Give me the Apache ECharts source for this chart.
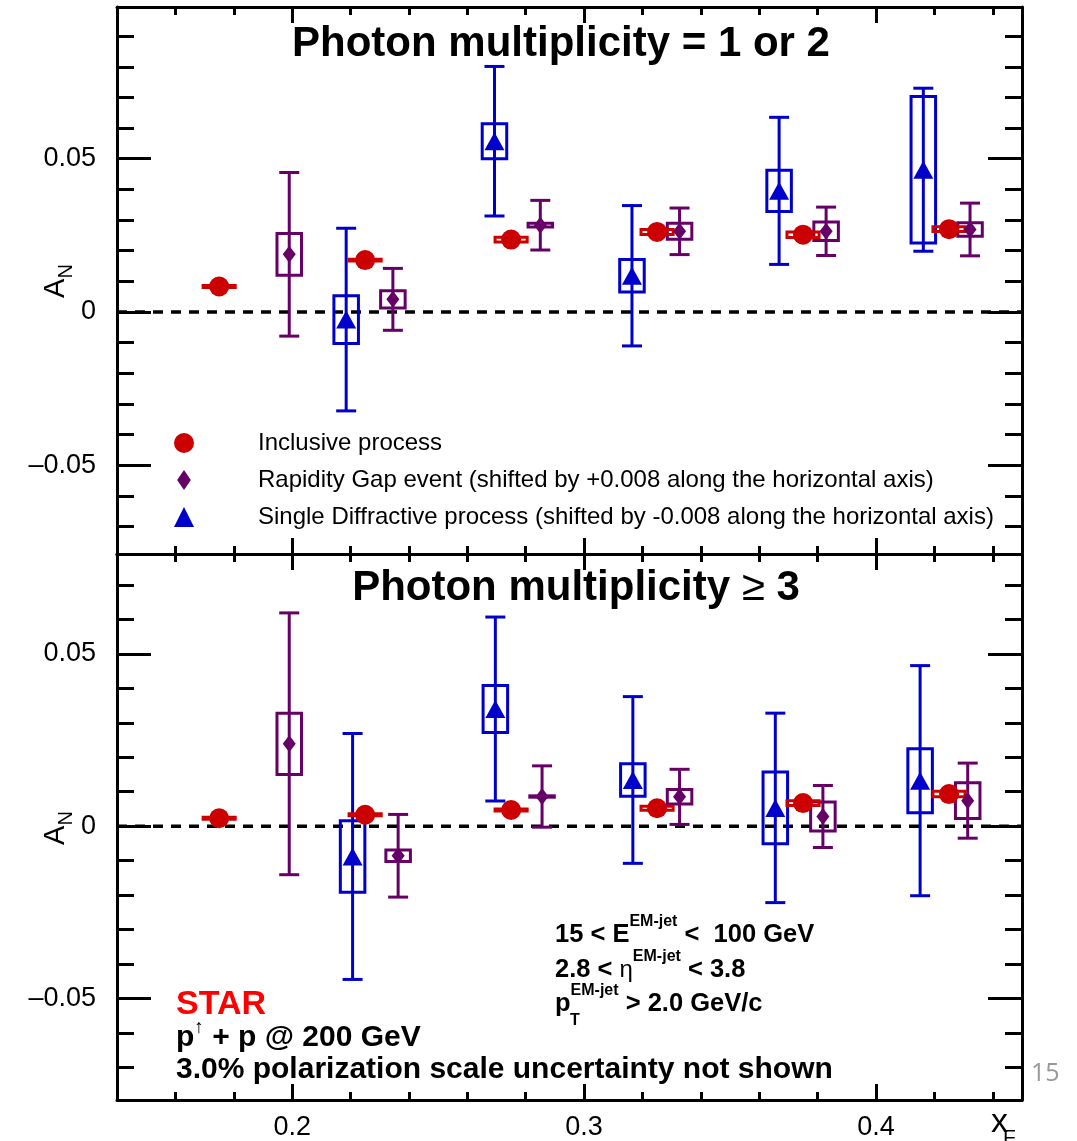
<!DOCTYPE html>
<html>
<head>
<meta charset="utf-8">
<title>STAR A_N vs x_F</title>
<script src="https://cdn.jsdelivr.net/npm/echarts@6/dist/echarts.min.js"></script>
<style>
  html, body { margin: 0; padding: 0; background: #fff; }
  #chart { width: 1077px; height: 1141px; }
</style>
</head>
<body>
<div id="chart"></div>
<script>
// ---------- x_F axis ----------
const X_MIN = 0.14, X_MAX = 0.45;
const xMajorTicks = [0.2, 0.3, 0.4];
const xMinorTicks = [0.16, 0.18, 0.22, 0.24, 0.26, 0.28, 0.32, 0.34, 0.36, 0.38, 0.42, 0.44];

// ---------- A_N axes ----------
const yTopRange = [-0.079, 0.0995];
const yBotRange = [-0.0795, 0.079];
const yMajorTicks = [-0.05, 0, 0.05];
const yTopMinorTicks = [-0.07, -0.06, -0.04, -0.03, -0.02, -0.01, 0.01, 0.02, 0.03, 0.04, 0.06, 0.07, 0.08, 0.09];
const yBotMinorTicks = [-0.07, -0.06, -0.04, -0.03, -0.02, -0.01, 0.01, 0.02, 0.03, 0.04, 0.06, 0.07];

// ---------- Photon multiplicity = 1 or 2 ----------
const incX_12    = [0.175, 0.225, 0.275, 0.325, 0.375, 0.425];
const incY_12    = [0.0083, 0.0169, 0.0236, 0.0261, 0.0252, 0.0270];
const incSys_12  = [0.0003, 0.0003, 0.0008, 0.0008, 0.0009, 0.0008];

const rgX_12     = [0.199, 0.2345, 0.285, 0.3327, 0.3829, 0.4322];
const rgY_12     = [0.0188, 0.0041, 0.0283, 0.0263, 0.0263, 0.0269];
const rgStat_12  = [0.0267, 0.0101, 0.0081, 0.0076, 0.0079, 0.0086];
const rgSys_12   = [0.0068, 0.0028, 0.0006, 0.0026, 0.0030, 0.0022];

const sdX_12     = [0.2185, 0.2693, 0.3164, 0.3668, 0.4162];
const sdY_12     = [-0.0025, 0.0557, 0.0118, 0.0395, 0.0464];
const sdStat_12  = [0.0298, 0.0244, 0.0229, 0.0240, 0.0266];
const sdSys_12   = [0.0078, 0.0057, 0.0053, 0.0067, 0.0239];

// ---------- Photon multiplicity >= 3 ----------
const incX_3     = [0.175, 0.225, 0.275, 0.325, 0.375, 0.425];
const incY_3     = [0.0023, 0.0033, 0.0047, 0.0052, 0.0067, 0.0093];
const incSys_3   = [0.0003, 0.0003, 0.0003, 0.0006, 0.0007, 0.0008];

const rgX_3      = [0.199, 0.2363, 0.2856, 0.3327, 0.3818, 0.4314];
const rgY_3      = [0.0239, -0.0086, 0.0086, 0.0085, 0.0028, 0.0074];
const rgStat_3   = [0.0380, 0.0120, 0.0089, 0.0080, 0.0090, 0.0109];
const rgSys_3    = [0.0089, 0.0017, 0.0002, 0.0021, 0.0042, 0.0052];

const sdX_3      = [0.2207, 0.2696, 0.3167, 0.3655, 0.4151];
const sdY_3      = [-0.0088, 0.0340, 0.0134, 0.0053, 0.0132];
const sdStat_3   = [0.0357, 0.0267, 0.0242, 0.0275, 0.0334];
const sdSys_3    = [0.0104, 0.0068, 0.0047, 0.0104, 0.0093];

// ---------- labels ----------
const NAME_INC = 'Inclusive process';
const NAME_RG  = 'Rapidity Gap event (shifted by +0.008 along the horizontal axis)';
const NAME_SD  = 'Single Diffractive process (shifted by -0.008 along the horizontal axis)';

// ---------- styles ----------
const RED = '#cc0000', PURPLE = '#660066', BLUE = '#0000cc';
const FONT = '"Liberation Sans", Arial, Helvetica, sans-serif';
const AXIS_W = 3;
const BOX_HW_INC = 0.0055;   // half-width of the systematic boxes (x_F units)
const BOX_HW = 0.0042;
const CAP_PX = 10;           // half-width of error-bar caps (px)

function rows(x, y, stat, sys) {
  return x.map((v, i) => [v, y[i], stat ? stat[i] : 0, sys[i]]);
}

// statistical bar + caps and hollow systematic box around each point
function errorRenderer(color, halfW) {
  return function (params, api) {
    const x = api.value(0), y = api.value(1), st = api.value(2), sy = api.value(3);
    const c = api.coord([x, y]);
    const kids = [];
    if (st > 0) {
      const t = api.coord([x, y + st]), b = api.coord([x, y - st]);
      const ls = { stroke: color, lineWidth: 3 };
      kids.push({ type: 'line', shape: { x1: c[0], y1: t[1], x2: c[0], y2: b[1] }, style: ls });
      kids.push({ type: 'line', shape: { x1: c[0] - CAP_PX, y1: t[1], x2: c[0] + CAP_PX, y2: t[1] }, style: ls });
      kids.push({ type: 'line', shape: { x1: c[0] - CAP_PX, y1: b[1], x2: c[0] + CAP_PX, y2: b[1] }, style: ls });
    }
    const p1 = api.coord([x - halfW, y + sy]), p2 = api.coord([x + halfW, y - sy]);
    kids.push({
      type: 'rect',
      shape: { x: p1[0], y: p1[1], width: p2[0] - p1[0], height: p2[1] - p1[1] },
      style: { stroke: color, fill: null, lineWidth: 3 }
    });
    return { type: 'group', children: kids };
  };
}

const tickLine = { color: '#000', width: AXIS_W };
const tickFont = { color: '#000', fontFamily: FONT, fontSize: 27 };

function xAxesFor(gi, showLabels) {
  const base = { gridIndex: gi, type: 'value', min: X_MIN, max: X_MAX, splitLine: { show: false } };
  const axes = [];
  ['bottom', 'top'].forEach(pos => {
    axes.push(Object.assign({}, base, {
      position: pos,
      axisLine: { show: true, onZero: false, lineStyle: tickLine },
      axisTick: { show: true, inside: true, length: 16, customValues: xMajorTicks, lineStyle: tickLine },
      axisLabel: pos === 'bottom' && showLabels
        ? Object.assign({ show: true, customValues: xMajorTicks, margin: 14, formatter: v => v.toFixed(1) }, tickFont)
        : { show: false }
    }));
    axes.push(Object.assign({}, base, {
      position: pos,
      axisLine: { show: false, onZero: false },
      axisTick: { show: true, inside: true, length: 8, customValues: xMinorTicks, lineStyle: tickLine },
      axisLabel: { show: false }
    }));
  });
  return axes;
}

function yFmt(v) {
  if (Math.abs(v) < 1e-9) return '0';
  return (v < 0 ? '\u2013' : '') + Math.abs(v).toFixed(2);
}

function yAxesFor(gi, range, minor) {
  const base = { gridIndex: gi, type: 'value', min: range[0], max: range[1], splitLine: { show: false } };
  const axes = [];
  ['left', 'right'].forEach(pos => {
    axes.push(Object.assign({}, base, {
      position: pos,
      axisLine: { show: true, onZero: false, lineStyle: tickLine },
      axisTick: { show: true, inside: true, length: 34, customValues: yMajorTicks, lineStyle: tickLine },
      axisLabel: pos === 'left'
        ? Object.assign({ show: true, customValues: yMajorTicks, margin: 21, formatter: yFmt }, tickFont)
        : { show: false }
    }));
    axes.push(Object.assign({}, base, {
      position: pos,
      axisLine: { show: false, onZero: false },
      axisTick: { show: true, inside: true, length: 17, customValues: minor, lineStyle: tickLine },
      axisLabel: { show: false }
    }));
  });
  return axes;
}

function panelSeries(gi, d) {
  const ax = { xAxisIndex: gi * 4, yAxisIndex: gi * 4 };
  return [
    Object.assign({
      type: 'line', name: 'zero', data: [[X_MIN, 0], [X_MAX, 0]], showSymbol: false, silent: true, z: 1,
      lineStyle: { color: '#000', width: 3.5, type: [10, 8] }
    }, ax),
    Object.assign({ type: 'custom', name: 'sd-err', data: d.sd, renderItem: errorRenderer(BLUE, BOX_HW),
      dimensions: ['x', 'y', 'stat', 'sys'], encode: { x: 0, y: 1 }, silent: true, z: 2 }, ax),
    Object.assign({ type: 'custom', name: 'rg-err', data: d.rg, renderItem: errorRenderer(PURPLE, BOX_HW),
      dimensions: ['x', 'y', 'stat', 'sys'], encode: { x: 0, y: 1 }, silent: true, z: 2 }, ax),
    Object.assign({ type: 'custom', name: 'inc-err', data: d.inc, renderItem: errorRenderer(RED, BOX_HW_INC),
      dimensions: ['x', 'y', 'stat', 'sys'], encode: { x: 0, y: 1 }, silent: true, z: 2 }, ax),
    Object.assign({ type: 'scatter', name: NAME_SD, data: d.sd.map(r => [r[0], r[1]]),
      symbol: 'triangle', symbolSize: [20, 18], itemStyle: { color: BLUE, opacity: 1 }, z: 3 }, ax),
    Object.assign({ type: 'scatter', name: NAME_RG, data: d.rg.map(r => [r[0], r[1]]),
      symbol: 'diamond', symbolSize: [13, 17], itemStyle: { color: PURPLE, opacity: 1 }, z: 3 }, ax),
    Object.assign({ type: 'scatter', name: NAME_INC, data: d.inc.map(r => [r[0], r[1]]),
      symbol: 'circle', symbolSize: 20, itemStyle: { color: RED, opacity: 1 }, z: 4 }, ax)
  ];
}

const top12 = {
  inc: rows(incX_12, incY_12, null, incSys_12),
  rg: rows(rgX_12, rgY_12, rgStat_12, rgSys_12),
  sd: rows(sdX_12, sdY_12, sdStat_12, sdSys_12)
};
const bot3 = {
  inc: rows(incX_3, incY_3, null, incSys_3),
  rg: rows(rgX_3, rgY_3, rgStat_3, rgSys_3),
  sd: rows(sdX_3, sdY_3, sdStat_3, sdSys_3)
};

function txt(x, y, text, font, extra) {
  return Object.assign({
    type: 'text', x: x, y: y, silent: true,
    style: Object.assign({ text: text, font: font, fill: '#000', align: 'left', verticalAlign: 'middle' },
      extra && extra.style || {})
  }, extra && extra.el || {});
}

const B = 'bold ';
const cutsRich = {
  b: { fontFamily: FONT, fontSize: 25.5, fontWeight: 'bold', lineHeight: 42 },
  g: { fontFamily: FONT, fontSize: 24, lineHeight: 42 },
  s: { fontFamily: FONT, fontSize: 16, fontWeight: 'bold', verticalAlign: 'top' }
};
const anRich = {
  a: { fontFamily: FONT, fontSize: 29, lineHeight: 40 },
  n: { fontFamily: FONT, fontSize: 20, verticalAlign: 'bottom' }
};

const graphics = [
  // panel titles
  txt(561, 44, 'Photon multiplicity = 1 or 2', B + '42px ' + FONT, { style: { align: 'center' } }),
  txt(576, 588, '{b|Photon multiplicity }{s|\u2265}{b| 3}', '42px ' + FONT, { style: {
    align: 'center',
    rich: { b: { fontFamily: FONT, fontSize: 42, fontWeight: 'bold' }, s: { fontFamily: FONT, fontSize: 42 } }
  } }),
  // y-axis titles
  txt(56, 281, '{a|A}{n|N}', '29px ' + FONT, { el: { rotation: Math.PI / 2 }, style: { align: 'center', rich: anRich } }),
  txt(56, 828, '{a|A}{n|N}', '29px ' + FONT, { el: { rotation: Math.PI / 2 }, style: { align: 'center', rich: anRich } }),
  // x-axis title
  txt(991, 1123, 'x', '34px ' + FONT),
  txt(1003, 1138, 'F', '21px ' + FONT),
  // kinematic cuts
  txt(555, 935, '{b|15 < E}{s|EM-jet}{b| <  100 GeV}', B + '25.5px ' + FONT, { style: { rich: cutsRich } }),
  txt(555, 970, '{b|2.8 < }{g|\u03b7}{s|EM-jet}{b| < 3.8}', B + '25.5px ' + FONT, { style: { rich: cutsRich } }),
  txt(555, 1004, '{b|p}{s|EM-jet}{b| > 2.0 GeV/c}', B + '25.5px ' + FONT, { style: { rich: cutsRich } }),
  txt(570, 1021, 'T', B + '16px ' + FONT),
  // experiment block
  txt(176, 1005, 'STAR', B + '34px ' + FONT, { style: { fill: '#ff0000' } }),
  txt(176, 1038, '{b|p}{u|\u2191}{b| + p @ 200 GeV}', B + '30px ' + FONT, { style: {
    rich: { b: { fontFamily: FONT, fontSize: 30, fontWeight: 'bold', lineHeight: 40 },
            u: { fontFamily: FONT, fontSize: 19, verticalAlign: 'top' } }
  } }),
  txt(176, 1070, '3.0% polarization scale uncertainty not shown', B + '30px ' + FONT),
  // page number
  txt(1031, 1074, '15', '25px "Open Sans", ' + FONT, { style: { fill: '#999999' } })
];

const chart = echarts.init(document.getElementById('chart'), null, { renderer: 'canvas' });
chart.setOption({
  animation: false,
  backgroundColor: '#ffffff',
  grid: [
    { left: 117, top: 7, width: 905, height: 547 },
    { left: 117, top: 554, width: 905, height: 546 }
  ],
  xAxis: xAxesFor(0, false).concat(xAxesFor(1, true)),
  yAxis: yAxesFor(0, yTopRange, yTopMinorTicks).concat(yAxesFor(1, yBotRange, yBotMinorTicks)),
  legend: {
    orient: 'vertical', left: 174, top: 431, padding: 0,
    itemWidth: 20, itemHeight: 20, itemGap: 13,
    selectedMode: false,
    textStyle: { color: '#000', fontFamily: FONT, fontSize: 24, rich: { g: { width: 59 } } },
    formatter: name => '{g|}' + name,
    data: [
      { name: NAME_INC, icon: 'circle' },
      { name: NAME_RG, icon: 'path://M0,0L6.5,9.5L0,19L-6.5,9.5Z' },
      { name: NAME_SD, icon: 'triangle' }
    ]
  },
  series: panelSeries(0, top12).concat(panelSeries(1, bot3)),
  graphic: { elements: graphics }
});
</script>
</body>
</html>
